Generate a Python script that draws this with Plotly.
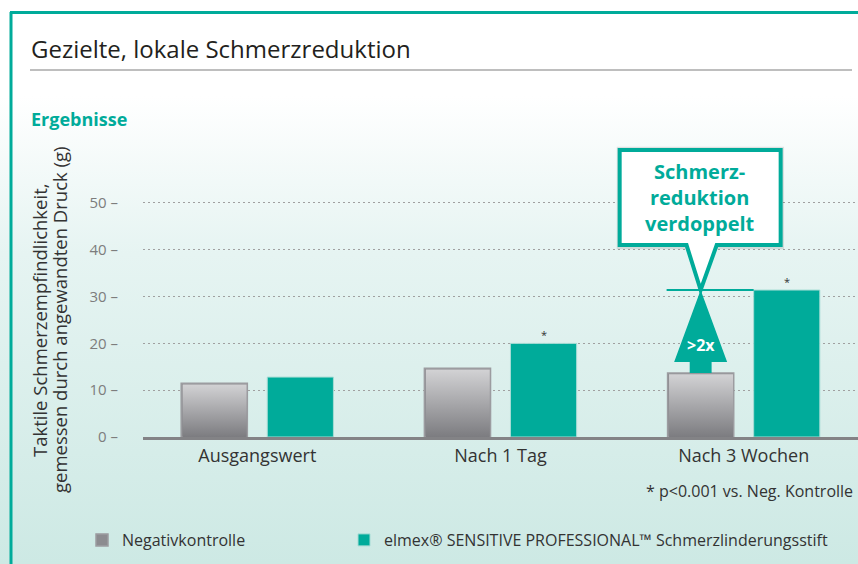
import base64
import plotly.graph_objects as go

# ---------------- data ----------------
categories = ["Ausgangswert", "Nach 1 Tag", "Nach 3 Wochen"]
negativkontrolle = [11.5, 14.7, 13.7]
elmex = [12.8, 20.0, 31.4]
significance = ["", "*", "*"]
y_ticks = [0, 10, 20, 30, 40, 50]
y_ticklabels = ["0 –", "10 –", "20 –", "30 –", "40 –", "50 –"]
series_names = ["Negativkontrolle",
                "elmex® SENSITIVE PROFESSIONAL™ Schmerzlinderungsstift"]
y_title_lines = ["Taktile Schmerzempfindlichkeit,", "gemessen durch angewandten Druck (g)"]
footnote = "* p<0.001 vs. Neg. Kontrolle"
callout_text = "Schmerz-<br>reduktion<br>verdoppelt"
arrow_text = ">2x"

# ---------------- style ----------------
TEAL = "#00ab9a"
GRAY_DARK = "#7c7c80"
GRAY_LIGHT = "#d4d4d6"
GRAY_LEG = "#8c8c90"
FONT = "Open Sans"
W, H = 858, 564
L, R, T, B = 143, 858, 140, 437

def px2x(p):
    return (p - L) / (R - L)

def py2y(p):
    return (B - p) / (B - T)

BAR_W = 0.272
OFF_G = -0.313
OFF_E = 0.041
x_pos = list(range(len(categories)))

fig = go.Figure()

# background gradient (SVG image)
svg = f"""<svg xmlns='http://www.w3.org/2000/svg' width='{W}' height='{H}'>
<defs><linearGradient id='g' x1='0' y1='0' x2='0' y2='1'>
<stop offset='0' stop-color='#ffffff'/>
<stop offset='0.17' stop-color='#ffffff'/>
<stop offset='0.45' stop-color='#e6f4f2'/>
<stop offset='1' stop-color='#cde9e4'/>
</linearGradient></defs>
<rect x='0' y='0' width='{W}' height='{H}' fill='url(#g)'/></svg>"""
src = "data:image/svg+xml;base64," + base64.b64encode(svg.encode()).decode()
fig.add_layout_image(dict(source=src, xref="paper", yref="paper",
                          x=px2x(0), y=py2y(0), sizex=W / (R - L), sizey=H / (B - T),
                          xanchor="left", yanchor="top", sizing="stretch", layer="below"))

fig.add_trace(go.Bar(x=x_pos, y=negativkontrolle, name=series_names[0],
                     width=BAR_W, offset=OFF_G, legend="legend",
                     marker=dict(color=GRAY_LEG, line=dict(color="#9c9ca0", width=1.5))))
fig.add_trace(go.Bar(x=x_pos, y=elmex, name=series_names[1],
                     width=BAR_W, offset=OFF_E, legend="legend2",
                     marker=dict(color=TEAL, line=dict(color="#a6dcd5", width=1))))

# gradient overlays on the grey bars
for xi, v in zip(x_pos, negativkontrolle):
    x0 = xi + OFF_G + 0.006
    x1 = xi + OFF_G + BAR_W - 0.003
    fig.add_trace(go.Scatter(
        x=[x0, x0, x1, x1, x0], y=[0, v - 0.3, v - 0.3, 0, 0],
        mode="lines", line=dict(width=0), fill="toself",
        fillgradient=dict(type="vertical", start=0, stop=v,
                          colorscale=[[0, GRAY_DARK], [1, GRAY_LIGHT]]),
        showlegend=False, hoverinfo="skip"))

# up arrow on the last group
gi = len(categories) - 1
cx = gi + OFF_G + BAR_W / 2
base_y = 16.0
hw, sw = 0.109, 0.045
ax_ = [cx, cx + hw, cx + sw, cx + sw, cx - sw, cx - sw, cx - hw, cx]
ay_ = [elmex[gi], base_y, base_y, negativkontrolle[gi], negativkontrolle[gi], base_y, base_y, elmex[gi]]
fig.add_trace(go.Scatter(x=ax_, y=ay_, mode="lines", line=dict(width=0, color=TEAL),
                         fill="toself", fillcolor=TEAL, showlegend=False, hoverinfo="skip"))

# horizontal level line
fig.add_shape(type="line", xref="x", yref="y",
              x0=gi - 0.317, x1=gi + OFF_E, y0=elmex[gi], y1=elmex[gi],
              line=dict(color=TEAL, width=2))

# callout box with pointer
bx0, bx1, by0, by1 = gi - 0.510, gi + 0.152, 41.0, 61.3
p0, p1 = gi - 0.235, gi - 0.111
path = (f"M{bx0},{by1} L{bx1},{by1} L{bx1},{by0} L{p1},{by0} "
        f"L{cx},{elmex[gi]} L{p0},{by0} L{bx0},{by0} Z")
shadow = (f"M{bx0-0.012},{by1+0.7} L{bx1+0.014},{by1+0.7} L{bx1+0.014},{by0-0.9} "
          f"L{bx0-0.012},{by0-0.9} Z")
fig.add_shape(type="path", xref="x", yref="y", path=shadow,
              fillcolor="rgba(0,0,0,0.10)", line=dict(width=0), layer="above")
fig.add_shape(type="path", xref="x", yref="y", path=path,
              fillcolor="white", line=dict(color=TEAL, width=4), layer="above")
fig.add_annotation(x=(bx0 + bx1) / 2, y=(by0 + by1) / 2, xref="x", yref="y",
                   text=callout_text, showarrow=False, xanchor="center", yanchor="middle",
                   font=dict(family=FONT, size=20, color=TEAL, weight="bold"))
fig.add_annotation(x=cx, y=19.7, xref="x", yref="y", text=arrow_text, showarrow=False,
                   xanchor="center", yanchor="middle",
                   font=dict(family=FONT, size=16, color="white", weight="bold"))

# significance stars
for xi, v, s in zip(x_pos, elmex, significance):
    if s:
        fig.add_annotation(x=xi + OFF_E + BAR_W / 2, y=v, xref="x", yref="y", text=s,
                           showarrow=False, yshift=9, xanchor="center",
                           font=dict(family=FONT, size=11, color="#333333"))

# title, subtitle, rules, frame
fig.add_annotation(x=px2x(29), y=py2y(48), xref="paper", yref="paper",
                   text="Gezielte, lokale Schmerzreduktion", showarrow=False,
                   xanchor="left", yanchor="middle",
                   font=dict(family=FONT, size=24, color="#231f20", weight=500))
fig.add_annotation(x=px2x(29), y=py2y(119), xref="paper", yref="paper",
                   text="Ergebnisse", showarrow=False, xanchor="left", yanchor="middle",
                   font=dict(family=FONT, size=18, color=TEAL, weight="bold"))
for line_x, line_text in zip([39, 59], y_title_lines):
    fig.add_annotation(x=px2x(line_x), y=py2y(320), xref="paper", yref="paper",
                       text=line_text, showarrow=False, textangle=-90,
                       xanchor="center", yanchor="middle",
                       font=dict(family=FONT, size=18.5, color="#333333"))
fig.add_annotation(x=px2x(855), y=py2y(491), xref="paper", yref="paper",
                   text=footnote, showarrow=False, xanchor="right", yanchor="middle",
                   font=dict(family=FONT, size=16, color="#333333"))
fig.add_shape(type="line", xref="paper", yref="paper",
              x0=px2x(30), x1=px2x(852), y0=py2y(70), y1=py2y(70),
              line=dict(color="#a9a9a9", width=1.5))
fig.add_shape(type="line", xref="paper", yref="paper",
              x0=px2x(10), x1=px2x(858), y0=py2y(12.5), y1=py2y(12.5),
              line=dict(color=TEAL, width=3))
fig.add_shape(type="line", xref="paper", yref="paper",
              x0=px2x(11), x1=px2x(11), y0=py2y(12), y1=py2y(564),
              line=dict(color=TEAL, width=3))

legend_common = dict(orientation="h", yanchor="middle", xanchor="left",
                     bgcolor="rgba(0,0,0,0)", borderwidth=0,
                     font=dict(family=FONT, size=16, color="#333333"))

fig.update_layout(
    width=W, height=H,
    margin=dict(l=L, r=W - R, t=T, b=H - B),
    paper_bgcolor="white", plot_bgcolor="rgba(0,0,0,0)",
    barmode="overlay",
    font=dict(family=FONT, color="#333333"),
    showlegend=True,
    legend=dict(x=px2x(82), y=py2y(540), **legend_common),
    legend2=dict(x=px2x(344), y=py2y(540), **legend_common),
    xaxis=dict(range=[-0.47, 2.47], tickvals=x_pos, ticktext=categories,
               showgrid=False, zeroline=False, showline=True, linecolor="#838386",
               linewidth=3, ticks="", automargin=False,
               tickfont=dict(family=FONT, size=18, color="#333333")),
    yaxis=dict(range=[0, 63.46], tickvals=y_ticks, ticktext=y_ticklabels,
               showgrid=True, gridcolor="#a0a0a0", griddash="2px,3px", gridwidth=1,
               zeroline=False, showline=False, ticks="", ticklabelstandoff=24,
               automargin=False,
               tickfont=dict(family=FONT, size=15, color="#7d7d7d")),
)

fig.write_html("out.html", config={"displayModeBar": False},
               post_script="document.body.style.margin='0';document.body.style.overflow='hidden';")
